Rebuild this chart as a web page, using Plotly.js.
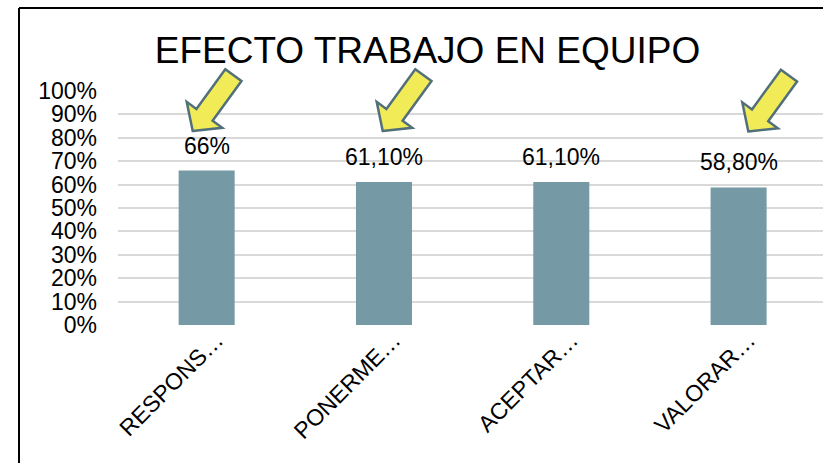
<!DOCTYPE html>
<html>
<head>
<meta charset="utf-8">
<script src="https://cdn.plot.ly/plotly-3.0.1.min.js"></script>
<style>
  html, body { margin: 0; padding: 0; background: #ffffff; }
  #chart { width: 823px; height: 463px; }
</style>
</head>
<body>
<div id="chart"></div>
<script>
// ---- data ----
const categories = ["RESPONS…", "PONERME…", "ACEPTAR…", "VALORAR…"];
const values = [0.66, 0.611, 0.611, 0.588];
const valueLabels = ["66%", "61,10%", "61,10%", "58,80%"];
const yTickVals = [0, 0.1, 0.2, 0.3, 0.4, 0.5, 0.6, 0.7, 0.8, 0.9, 1.0];
const titleText = "EFECTO TRABAJO EN EQUIPO";
// categories that carry a highlight arrow
const arrowCategories = [0, 1, 3];

// ---- layout constants ----
const W = 823, H = 463;
const M = { l: 118, r: 0, t: 91, b: 138 };
const plotW = W - M.l - M.r, plotH = H - M.t - M.b;
const FONT = '"Liberation Sans", Arial, sans-serif';
const px2paperX = px => (px - M.l) / plotW;
const px2paperY = py => (H - M.b - py) / plotH;

const trace = {
  type: 'bar',
  x: categories,
  y: values,
  marker: { color: '#7599a5' },
  hoverinfo: 'skip'
};

// data labels above the bars
const labelAnnotations = categories.map((c, i) => ({
  x: c, y: values[i], xref: 'x', yref: 'y',
  text: valueLabels[i], showarrow: false,
  yanchor: 'bottom', yshift: 10,
  font: { family: FONT, size: 23, color: '#000000' }
}));

// yellow block arrows (pixel geometry relative to their tip)
const arrowTipsPx = [[192.7, 131], [382.7, 131], [748.3, 131.5]];
const arrowPath = 'M 0,0 L 29.6,3.2 L 19.9,10.3 L 48.8,50 L 32.6,61.8 L 3.7,22.1 L -6,29.2 Z';
const arrowShapes = arrowCategories.map((ci, k) => ({
  type: 'path', xref: 'paper', yref: 'paper',
  xsizemode: 'pixel', ysizemode: 'pixel',
  xanchor: px2paperX(arrowTipsPx[k][0]), yanchor: px2paperY(arrowTipsPx[k][1]),
  path: arrowPath,
  fillcolor: '#f2eb58',
  line: { color: '#52707a', width: 2.5 },
  layer: 'above'
}));

// chart-area border (left and top edges visible in the crop)
const borderShapes = [
  { type: 'line', xref: 'paper', yref: 'paper',
    x0: px2paperX(19), x1: px2paperX(830), y0: px2paperY(8), y1: px2paperY(8),
    line: { color: '#000000', width: 2 } },
  { type: 'line', xref: 'paper', yref: 'paper',
    x0: px2paperX(19), x1: px2paperX(19), y0: px2paperY(8), y1: px2paperY(470),
    line: { color: '#000000', width: 2 } }
];

const layout = {
  width: W, height: H,
  margin: M,
  paper_bgcolor: '#ffffff',
  plot_bgcolor: '#ffffff',
  showlegend: false,
  bargap: 0.684,
  title: {
    text: titleText,
    x: 427.5 / W, xanchor: 'center', xref: 'container',
    y: 1 - 50 / H, yanchor: 'middle', yref: 'container',
    font: { family: FONT, size: 37, color: '#000000' }
  },
  xaxis: {
    type: 'category',
    range: [-0.5, 3.476],
    tickangle: -45,
    tickfont: { family: FONT, size: 23, color: '#000000' },
    showgrid: false, zeroline: false, showline: false,
    ticks: '',
    ticklabelshift: 10,
    ticklabelstandoff: -4,
    fixedrange: true
  },
  yaxis: {
    range: [0, 1],
    tickvals: yTickVals,
    tickformat: '.0%',
    tickfont: { family: FONT, size: 23, color: '#000000' },
    showgrid: true, gridcolor: '#d9d9d9', gridwidth: 2,
    zeroline: true, zerolinecolor: 'rgba(0,0,0,0)',
    showline: false, ticks: '',
    ticklabelstandoff: 20,
    fixedrange: true
  },
  annotations: labelAnnotations,
  shapes: borderShapes.concat(arrowShapes)
};

Plotly.newPlot('chart', [trace], layout, { displayModeBar: false, staticPlot: true });
</script>
</body>
</html>
